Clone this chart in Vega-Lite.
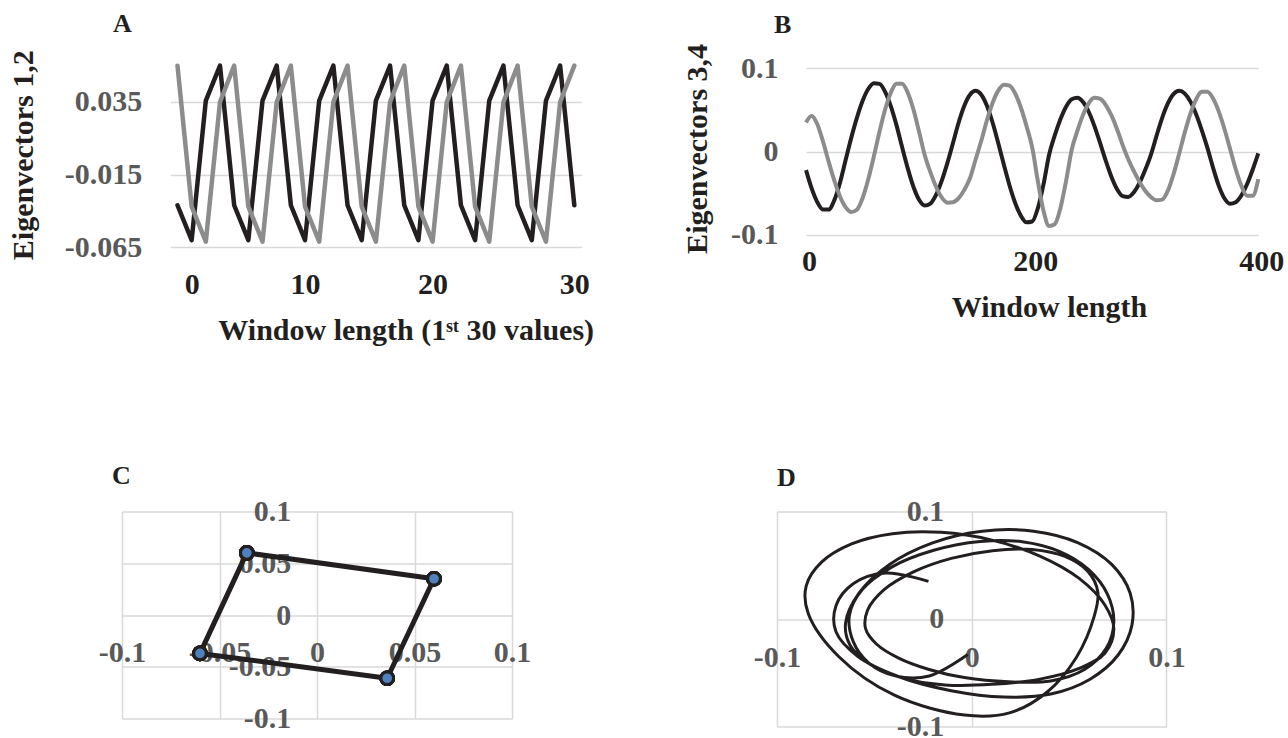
{
  "$schema": "https://vega.github.io/schema/vega-lite/v6.json",
  "background": "white",
  "padding": {"left": 8, "top": 10, "right": 0, "bottom": 0},
  "config": {
    "view": {"stroke": null},
    "font": "Liberation Serif",
    "axis": {
      "labelFont": "Liberation Serif", "labelFontWeight": "bold", "labelFontSize": 30,
      "titleFont": "Liberation Serif", "titleFontWeight": "bold", "titleFontSize": 30, "titleColor": "#231f20",
      "gridColor": "#d9d9d9", "gridWidth": 1.5, "domain": false, "ticks": false, "tickSize": 0,
      "labelOverlap": false, "labelFlush": false
    },
    "title": {"font": "Liberation Serif", "fontSize": 26, "fontWeight": "bold", "color": "#231f20", "anchor": "start", "frame": "group", "baseline": "alphabetic"}
  },
  "datasets": {
    "ev12": [
      {"i":1,"e1":-0.036,"e2":0.060},{"i":2,"e1":-0.060,"e2":-0.037},{"i":3,"e1":0.036,"e2":-0.061},{"i":4,"e1":0.060,"e2":0.035},
      {"i":5,"e1":-0.036,"e2":0.060},{"i":6,"e1":-0.060,"e2":-0.037},{"i":7,"e1":0.036,"e2":-0.061},{"i":8,"e1":0.060,"e2":0.035},
      {"i":9,"e1":-0.036,"e2":0.060},{"i":10,"e1":-0.060,"e2":-0.037},{"i":11,"e1":0.036,"e2":-0.061},{"i":12,"e1":0.060,"e2":0.035},
      {"i":13,"e1":-0.036,"e2":0.060},{"i":14,"e1":-0.060,"e2":-0.037},{"i":15,"e1":0.036,"e2":-0.061},{"i":16,"e1":0.060,"e2":0.035},
      {"i":17,"e1":-0.036,"e2":0.060},{"i":18,"e1":-0.060,"e2":-0.037},{"i":19,"e1":0.036,"e2":-0.061},{"i":20,"e1":0.060,"e2":0.035},
      {"i":21,"e1":-0.036,"e2":0.060},{"i":22,"e1":-0.060,"e2":-0.037},{"i":23,"e1":0.036,"e2":-0.061},{"i":24,"e1":0.060,"e2":0.035},
      {"i":25,"e1":-0.036,"e2":0.060},{"i":26,"e1":-0.060,"e2":-0.037},{"i":27,"e1":0.036,"e2":-0.061},{"i":28,"e1":0.060,"e2":0.035},
      {"i":29,"e1":-0.036,"e2":0.060}
    ],
    "ev34": [
      {"t":0,"e3":-0.0222,"e4":0.0349},{"t":5,"e3":-0.0442,"e4":0.0427},{"t":10,"e3":-0.0607,"e4":0.0329},{"t":15,"e3":-0.0697,"e4":0.0123},
      {"t":20,"e3":-0.0697,"e4":-0.0120},{"t":25,"e3":-0.0586,"e4":-0.0347},{"t":30,"e3":-0.0377,"e4":-0.0536},{"t":35,"e3":-0.0105,"e4":-0.0668},
      {"t":40,"e3":0.0165,"e4":-0.0727},{"t":45,"e3":0.0406,"e4":-0.0699},{"t":50,"e3":0.0608,"e4":-0.0561},{"t":55,"e3":0.0752,"e4":-0.0336},
      {"t":60,"e3":0.0823,"e4":-0.0058},{"t":65,"e3":0.0814,"e4":0.0239},{"t":70,"e3":0.0719,"e4":0.0507},{"t":75,"e3":0.0547,"e4":0.0708},
      {"t":80,"e3":0.0318,"e4":0.0816},{"t":85,"e3":0.0054,"e4":0.0816},{"t":90,"e3":-0.0201,"e4":0.0708},{"t":95,"e3":-0.0422,"e4":0.0507},
      {"t":100,"e3":-0.0579,"e4":0.0239},{"t":105,"e3":-0.0648,"e4":-0.0042},{"t":110,"e3":-0.0624,"e4":-0.0247},{"t":115,"e3":-0.0520,"e4":-0.0423},
      {"t":120,"e3":-0.0351,"e4":-0.0551},{"t":125,"e3":-0.0138,"e4":-0.0614},{"t":130,"e3":0.0104,"e4":-0.0609},{"t":135,"e3":0.0350,"e4":-0.0560},
      {"t":140,"e3":0.0552,"e4":-0.0460},{"t":145,"e3":0.0684,"e4":-0.0320},{"t":150,"e3":0.0730,"e4":-0.0095},{"t":155,"e3":0.0684,"e4":0.0130},
      {"t":160,"e3":0.0552,"e4":0.0377},{"t":165,"e3":0.0350,"e4":0.0585},{"t":170,"e3":0.0104,"e4":0.0733},{"t":175,"e3":-0.0158,"e4":0.0805},
      {"t":180,"e3":-0.0407,"e4":0.0793},{"t":185,"e3":-0.0617,"e4":0.0698},{"t":190,"e3":-0.0770,"e4":0.0530},{"t":195,"e3":-0.0850,"e4":0.0308},
      {"t":200,"e3":-0.0840,"e4":0.0053},{"t":205,"e3":-0.0682,"e4":-0.0352},{"t":210,"e3":-0.0397,"e4":-0.0710},{"t":215,"e3":-0.0037,"e4":-0.0895},
      {"t":220,"e3":0.0194,"e4":-0.0874},{"t":225,"e3":0.0388,"e4":-0.0680},{"t":230,"e3":0.0539,"e4":-0.0354},{"t":235,"e3":0.0629,"e4":0.0023},
      {"t":240,"e3":0.0648,"e4":0.0249},{"t":245,"e3":0.0596,"e4":0.0443},{"t":250,"e3":0.0479,"e4":0.0581},{"t":255,"e3":0.0310,"e4":0.0646},
      {"t":260,"e3":0.0107,"e4":0.0635},{"t":265,"e3":-0.0105,"e4":0.0563},{"t":270,"e3":-0.0299,"e4":0.0438},{"t":275,"e3":-0.0450,"e4":0.0272},
      {"t":280,"e3":-0.0535,"e4":0.0080},{"t":285,"e3":-0.0545,"e4":-0.0091},{"t":290,"e3":-0.0488,"e4":-0.0236},{"t":295,"e3":-0.0375,"e4":-0.0365},
      {"t":300,"e3":-0.0219,"e4":-0.0471},{"t":305,"e3":-0.0038,"e4":-0.0546},{"t":310,"e3":0.0189,"e4":-0.0585},{"t":315,"e3":0.0406,"e4":-0.0577},
      {"t":320,"e3":0.0579,"e4":-0.0470},{"t":325,"e3":0.0691,"e4":-0.0274},{"t":330,"e3":0.0730,"e4":-0.0026},{"t":335,"e3":0.0697,"e4":0.0231},
      {"t":340,"e3":0.0601,"e4":0.0458},{"t":345,"e3":0.0450,"e4":0.0628},{"t":350,"e3":0.0259,"e4":0.0718},{"t":355,"e3":0.0044,"e4":0.0720},
      {"t":360,"e3":-0.0195,"e4":0.0638},{"t":365,"e3":-0.0409,"e4":0.0484},{"t":370,"e3":-0.0561,"e4":0.0275},{"t":375,"e3":-0.0628,"e4":0.0035},
      {"t":380,"e3":-0.0609,"e4":-0.0209},{"t":385,"e3":-0.0528,"e4":-0.0411},{"t":390,"e3":-0.0393,"e4":-0.0530},{"t":395,"e3":-0.0218,"e4":-0.0531},
      {"t":400,"e3":-0.0020,"e4":-0.0331}
    ]
  },
  "bounds": "flush",
  "spacing": 449.4,
  "vconcat": [
    {
      "bounds": "flush",
      "spacing": 224,
      "hconcat": [
        {
          "width": 459.4, "height": 185.4,
          "title": {"text": "A", "dx": -9, "offset": 13, "frame": "group"},
          "data": {"name": "ev12"},
          "transform": [{"fold": ["e1", "e2"], "as": ["series", "value"]}],
          "mark": {"type": "line", "strokeWidth": 4.5, "strokeJoin": "round", "strokeCap": "round"},
          "encoding": {
            "x": {"field": "i", "type": "quantitative",
              "scale": {"domain": [0.5, 29.5], "range": [48.4, 459.4], "nice": false, "zero": false},
              "axis": {"values": [2, 10, 19, 29], "labelExpr": "datum.value == 2 ? '0' : datum.value == 10 ? '10' : datum.value == 19 ? '20' : '30'",
                "grid": false, "labelColor": "#231f20", "labelPadding": 22,
                "title": "Window length (1ˢᵗ 30 values)", "titlePadding": 16, "titleX": 283.7}},
            "y": {"field": "value", "type": "quantitative",
              "scale": {"domain": [-0.065, 0.0625], "nice": false, "zero": false},
              "axis": {"values": [-0.065, -0.015, 0.035], "format": ".3f", "labelExpr": "replace(datum.label, '\u2212', '-')",
                "grid": true, "labelColor": "#595959", "labelPadding": 2, "offset": -21.7,
                "title": "Eigenvectors 1,2", "titlePadding": 26}},
            "color": {"field": "series", "type": "nominal", "scale": {"domain": ["e1", "e2"], "range": ["#231f20", "#8c8c8c"]}, "legend": null}
          }
        },
        {
          "width": 452.3, "height": 172.8,
          "title": {"text": "B", "dx": -32, "offset": 5.5, "frame": "group"},
          "data": {"name": "ev34"},
          "transform": [{"fold": ["e3", "e4"], "as": ["series", "value"]}],
          "mark": {"type": "line", "strokeWidth": 4, "interpolate": "monotone", "strokeJoin": "round"},
          "encoding": {
            "x": {"field": "t", "type": "quantitative",
              "scale": {"domain": [0, 400], "nice": false, "zero": false},
              "axis": {"values": [0, 200, 400], "grid": false, "labelColor": "#231f20", "labelPadding": 12, "labelOffset": 3,
                "title": "Window length", "titlePadding": 16, "titleX": 243}},
            "y": {"field": "value", "type": "quantitative",
              "scale": {"domain": [-0.1, 0.1077], "nice": false, "zero": false},
              "axis": {"values": [-0.1, 0, 0.1], "format": "~g", "labelExpr": "replace(datum.label, '\u2212', '-')",
                "grid": true, "labelColor": "#595959", "labelPadding": 28,
                "title": "Eigenvectors 3,4", "titlePadding": 18}},
            "color": {"field": "series", "type": "nominal", "scale": {"domain": ["e3", "e4"], "range": ["#231f20", "#8c8c8c"]}, "legend": null}
          }
        }
      ]
    },
    {
      "bounds": "flush",
      "spacing": 265,
      "hconcat": [
        {
          "width": 390, "height": 207.3,
          "title": {"text": "C", "dx": -10, "offset": 7.5, "frame": "group"},
          "data": {"name": "ev12"},
          "encoding": {
            "x": {"field": "e1", "type": "quantitative",
              "scale": {"domain": [-0.1, 0.1], "nice": false, "zero": false},
              "axis": {"values": [-0.1, -0.05, 0, 0.05, 0.1], "format": "~g", "labelExpr": "replace(datum.label, '\u2212', '-')",
                "grid": true, "labelColor": "#595959", "labelPadding": 2, "offset": -83, "title": null}},
            "y": {"field": "e2", "type": "quantitative",
              "scale": {"domain": [-0.1, 0.1], "nice": false, "zero": false},
              "axis": {"values": [-0.1, -0.05, 0, 0.05, 0.1], "format": "~g", "labelExpr": "replace(datum.label, '\u2212', '-')",
                "grid": true, "labelColor": "#595959", "labelPadding": 2, "offset": -170.7, "title": null}},
            "order": {"field": "i", "type": "quantitative"}
          },
          "layer": [
            {"mark": {"type": "line", "color": "#231f20", "strokeWidth": 5, "strokeJoin": "round"}},
            {"mark": {"type": "point", "filled": true, "fill": "#4f81bd", "stroke": "#231f20", "strokeWidth": 3, "size": 160, "opacity": 1}}
          ]
        },
        {
          "width": 389.4, "height": 215,
          "title": {"text": "D", "dx": 0, "offset": 5.4, "frame": "group"},
          "data": {"name": "ev34"},
          "mark": {"type": "line", "color": "#231f20", "strokeWidth": 3, "interpolate": "catmull-rom"},
          "encoding": {
            "x": {"field": "e3", "type": "quantitative",
              "scale": {"domain": [-0.1, 0.1], "nice": false, "zero": false},
              "axis": {"values": [-0.1, 0, 0.1], "format": "~g", "labelExpr": "replace(datum.label, '\u2212', '-')",
                "grid": true, "labelColor": "#595959", "labelPadding": 2, "offset": -85.6, "title": null}},
            "y": {"field": "e4", "type": "quantitative",
              "scale": {"domain": [-0.1, 0.1], "nice": false, "zero": false},
              "axis": {"values": [-0.1, 0, 0.1], "format": "~g", "labelExpr": "replace(datum.label, '\u2212', '-')",
                "grid": true, "labelColor": "#595959", "labelPadding": 2, "offset": -168.7, "title": null}},
            "order": {"field": "t", "type": "quantitative"}
          }
        }
      ]
    }
  ]
}
